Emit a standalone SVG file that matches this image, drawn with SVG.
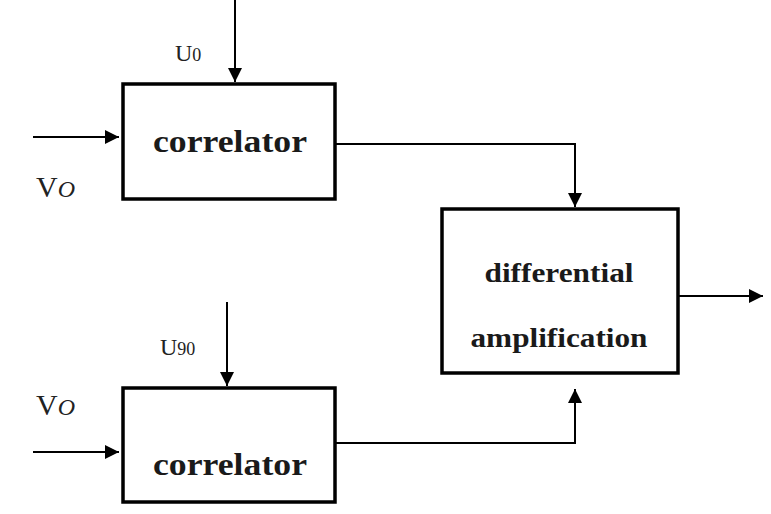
<svg xmlns="http://www.w3.org/2000/svg" width="771" height="514" viewBox="0 0 771 514">
<defs>
<marker id="ah" viewBox="0 0 14 14" refX="14" refY="7" markerWidth="14" markerHeight="14" markerUnits="userSpaceOnUse" orient="auto">
<path d="M0,0 L14,7 L0,14 Z" fill="#000"/>
</marker>
<style>
.box{fill:#fff;stroke:#000;stroke-width:3.5}
.ln{fill:none;stroke:#000;stroke-width:2}
.bt{font-family:"Liberation Serif",serif;font-weight:bold;fill:#1a1a1a;text-anchor:middle}
.lb{font-family:"Liberation Serif",serif;fill:#222}
</style>
</defs>
<rect width="771" height="514" fill="#fff"/>
<g id="connectors">
<path class="ln" d="M235,0 V82" marker-end="url(#ah)"/>
<path class="ln" d="M33,137 H119" marker-end="url(#ah)"/>
<path class="ln" d="M335,144 H575 V207" marker-end="url(#ah)"/>
<path class="ln" d="M227,302 V386" marker-end="url(#ah)"/>
<path class="ln" d="M33,452 H119" marker-end="url(#ah)"/>
<path class="ln" d="M335,443 H575 V389" marker-end="url(#ah)"/>
<path class="ln" d="M678,296 H763" marker-end="url(#ah)"/>
</g>
<g id="corr1">
<rect class="box" x="123" y="84" width="212" height="115"/>
<text class="bt" x="230" y="152" font-size="32" textLength="154" lengthAdjust="spacingAndGlyphs">correlator</text>
</g>
<g id="corr2">
<rect class="box" x="123" y="388" width="212" height="114"/>
<text class="bt" x="230" y="475" font-size="32" textLength="154" lengthAdjust="spacingAndGlyphs">correlator</text>
</g>
<g id="diff">
<rect class="box" x="442" y="209" width="236" height="164"/>
<text class="bt" x="559" y="282" font-size="27" textLength="149" lengthAdjust="spacingAndGlyphs">differential</text>
<text class="bt" x="559" y="347" font-size="27" textLength="177" lengthAdjust="spacingAndGlyphs">amplification</text>
</g>
<g id="labels">
<text class="lb" x="175" y="61" font-size="24">U<tspan font-size="18">0</tspan></text>
<text class="lb" x="160" y="355" font-size="24">U<tspan font-size="18">90</tspan></text>
<text class="lb" x="36" y="197" font-size="30">V<tspan font-style="italic" font-size="24">O</tspan></text>
<text class="lb" x="36" y="415" font-size="30">V<tspan font-style="italic" font-size="24">O</tspan></text>
</g>
</svg>
